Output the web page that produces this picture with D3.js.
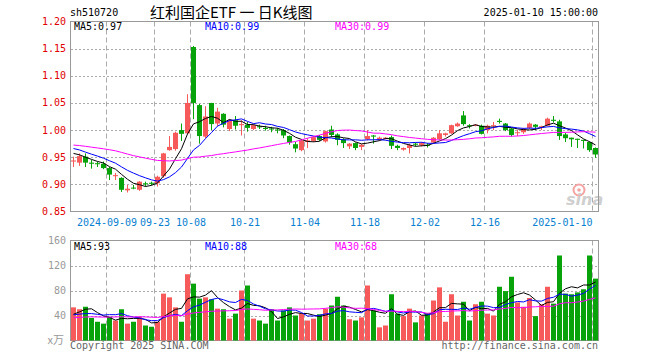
<!DOCTYPE html>
<html>
<head>
<meta charset="utf-8">
<script src="https://cdn.jsdelivr.net/npm/d3@7"></script>
<style>
body{margin:0;background:#fff}
text{font-family:"DejaVu Sans Mono",monospace;font-size:10px}
</style>
</head>
<body>
<div id="chart"></div>
<script>
// trading days shown on the chart
const dates = ["2024-08-30",
 "2024-09-02","2024-09-03","2024-09-04","2024-09-05","2024-09-06",
 "2024-09-09","2024-09-10","2024-09-11","2024-09-12","2024-09-13",
 "2024-09-18","2024-09-19","2024-09-20",
 "2024-09-23","2024-09-24","2024-09-25","2024-09-26","2024-09-27","2024-09-30",
 "2024-10-08","2024-10-09","2024-10-10","2024-10-11",
 "2024-10-14","2024-10-15","2024-10-16","2024-10-17","2024-10-18",
 "2024-10-21","2024-10-22","2024-10-23","2024-10-24","2024-10-25",
 "2024-10-28","2024-10-29","2024-10-30","2024-10-31","2024-11-01",
 "2024-11-04","2024-11-05","2024-11-06","2024-11-07","2024-11-08",
 "2024-11-11","2024-11-12","2024-11-13","2024-11-14","2024-11-15",
 "2024-11-18","2024-11-19","2024-11-20","2024-11-21","2024-11-22",
 "2024-11-25","2024-11-26","2024-11-27","2024-11-28","2024-11-29",
 "2024-12-02","2024-12-03","2024-12-04","2024-12-05","2024-12-06",
 "2024-12-09","2024-12-10","2024-12-11","2024-12-12","2024-12-13",
 "2024-12-16","2024-12-17","2024-12-18","2024-12-19","2024-12-20",
 "2024-12-23","2024-12-24","2024-12-25","2024-12-26","2024-12-27",
 "2024-12-30","2024-12-31","2025-01-02","2025-01-03",
 "2025-01-06","2025-01-07","2025-01-08","2025-01-09","2025-01-10"];

const openP = [0.942,0.940,0.951,0.940,0.939,0.938,0.930,0.915,0.912,0.889,
 0.894,0.890,0.902,0.903,0.902,0.915,0.963,0.965,1.000,0.994,
 1.153,1.046,0.988,1.050,1.012,1.030,1.002,1.018,1.009,1.010,
 1.002,1.007,1.004,1.003,1.001,1.000,0.989,0.974,0.963,0.978,
 0.980,0.989,0.979,1.001,0.992,0.983,0.970,0.976,0.969,0.983,
 0.990,0.983,0.984,0.987,0.971,0.964,0.967,0.975,0.972,0.973,
 0.977,0.983,0.991,0.994,1.007,1.027,1.009,1.008,1.008,1.000,
 1.007,1.017,1.012,1.003,0.995,0.996,1.004,1.010,1.005,1.008,
 1.019,1.016,0.992,0.986,0.984,0.982,0.978,0.967];
const highP = [0.951,0.957,0.957,0.945,0.942,0.942,0.932,0.921,0.913,0.899,
 0.899,0.906,0.905,0.905,0.916,0.958,0.989,0.997,1.012,1.066,
 1.155,1.048,1.044,1.050,1.041,1.031,1.020,1.026,1.018,1.015,
 1.011,1.010,1.008,1.006,1.004,1.002,0.990,0.978,0.983,0.985,
 0.989,0.991,0.999,1.008,0.994,0.985,0.976,0.977,0.974,1.000,
 0.991,0.988,0.987,0.990,0.973,0.968,0.975,0.977,0.978,0.976,
 0.987,1.000,0.995,1.010,1.014,1.035,1.011,1.011,1.010,1.010,
 1.015,1.021,1.013,1.004,1.000,1.004,1.014,1.011,1.008,1.023,
 1.026,1.019,0.995,0.986,0.984,0.982,0.979,0.968];
const lowP = [0.932,0.934,0.932,0.929,0.932,0.928,0.908,0.908,0.886,0.885,
 0.891,0.888,0.896,0.898,0.896,0.912,0.962,0.962,0.980,0.993,
 1.020,0.975,0.985,1.000,1.007,1.005,0.998,1.001,0.990,0.997,
 1.000,1.002,0.999,0.996,0.994,0.985,0.973,0.959,0.961,0.967,
 0.978,0.980,0.977,0.987,0.972,0.967,0.965,0.963,0.963,0.981,
 0.975,0.980,0.983,0.965,0.963,0.962,0.957,0.970,0.970,0.968,
 0.976,0.982,0.988,0.993,1.006,1.008,1.003,1.007,0.992,0.994,
 1.000,1.012,0.998,0.988,0.989,0.993,1.002,1.000,1.000,1.007,
 1.014,0.982,0.978,0.969,0.967,0.966,0.960,0.949];
const closeP = [0.944,0.952,0.940,0.938,0.937,0.930,0.918,0.917,0.890,0.892,
 0.893,0.905,0.900,0.901,0.914,0.957,0.969,0.995,0.993,1.050,
 1.050,0.989,1.025,1.011,1.034,1.010,1.018,1.008,1.011,1.004,
 1.009,1.005,1.002,1.001,1.000,0.990,0.977,0.966,0.981,0.981,
 0.987,0.982,0.998,0.991,0.982,0.976,0.975,0.967,0.973,0.989,
 0.988,0.986,0.986,0.971,0.967,0.967,0.972,0.973,0.976,0.971,
 0.986,0.994,0.994,1.009,1.012,1.011,1.007,1.010,0.993,1.008,
 1.009,1.015,1.000,0.991,0.996,1.002,1.012,1.006,1.007,1.021,
 1.017,0.989,0.985,0.983,0.982,0.980,0.963,0.955];
// volume in 万手
const volume = [53,50,54,36,30,27,38,32,50,27,30,38,24,22,30,75,69,53,30,106,
 91,67,69,66,51,50,35,43,80,88,35,32,27,50,32,48,53,40,43,32,
 35,42,51,56,70,56,34,32,37,88,48,21,24,74,43,39,51,29,40,44,
 64,85,30,74,40,62,32,58,62,43,40,86,79,102,61,54,68,39,58,86,
 59,136,75,74,77,82,136,99];

// days before the window, only used so the moving averages start where they do
const earlierClose = [0.978,0.982,0.985,0.980,0.976,0.972,0.975,0.979,0.983,0.980,
 0.974,0.970,0.968,0.972,0.976,0.978,0.974,0.969,0.966,0.973,
 0.978,0.980,0.976,0.972,0.969,0.965,0.962,0.958,0.956];
const earlierVolume = [30,36,28,33,40,31,29,35,38,32,27,34,36,41,33,30,35,39,32,40,
 38,45,36,42,39,31,33,32,61];

const priceTicks = [1.20,1.15,1.10,1.05,1.00,0.95,0.90,0.85];
const volTicks = [160,120,80,40];
const tickDates = ["2024-09-09","2024-09-23","2024-10-08","2024-10-21","2024-11-04",
 "2024-11-18","2024-12-02","2024-12-16","2025-01-10"];
const tickLabels = ["2024-09-09","09-23","10-08","10-21","11-04","11-18","12-02","12-16","2025-01-10"];
const maPeriods = [5,10,30];
const maColors = ["#000","#0000ff","#ff00ff"];
const priceLegend = ["MA5:0.97","MA10:0.99","MA30:0.99"];
const volLegend = ["MA5:93","MA10:88","MA30:68"];

const upColor = "#f65a5a", downColor = "#08a30a";
const W = 660, H = 360;
const L = 70, R = 598;

const svg = d3.select("#chart").append("svg")
    .attr("width", W).attr("height", H);

const x = d3.scaleBand().domain(d3.range(dates.length)).range([L, R]).padding(0);
const yP = d3.scaleLinear().domain([0.85, 1.20]).range([211.5, 21.5]);
const yV = d3.scaleLinear().domain([0, 160]).range([340.5, 240.5]);

const crisp = v => Math.round(v) + 0.5;
const isUp = i => closeP[i] >= openP[i];

// moving average with the earlier days as warm-up
function movingAvg(series, earlier, n) {
    const all = earlier.concat(series);
    return series.map((_, i) => d3.mean(all.slice(i + earlier.length - n + 1, i + earlier.length + 1)));
}

// header
svg.append("text").attr("x", 70).attr("y", 16).text("sh510720");
svg.append("text").attr("x", 150).attr("y", 18)
    .style("font-family", '"Noto Sans CJK SC", sans-serif').style("font-size", "15px")
    .text("红利国企ETF 一 日K线图");
svg.append("text").attr("x", R).attr("y", 16).attr("text-anchor", "end").text("2025-01-10 15:00:00");

// grid lines
const grid = svg.append("g");
grid.selectAll(".hp").data(priceTicks.slice(1, -1)).enter().append("line")
    .attr("x1", L + 1).attr("x2", R)
    .attr("y1", d => crisp(yP(d))).attr("y2", d => crisp(yP(d)))
    .attr("stroke", "#aaa").attr("stroke-dasharray", "2,2");
grid.selectAll(".hv").data(volTicks.slice(1)).enter().append("line")
    .attr("x1", L + 1).attr("x2", R)
    .attr("y1", d => crisp(yV(d))).attr("y2", d => crisp(yV(d)))
    .attr("stroke", "#aaa").attr("stroke-dasharray", "2,2");

const tickIdx = tickDates.map(d => dates.indexOf(d));
[[21.5, 211.5], [240.5, 340.5]].forEach(r => {
    grid.selectAll(null).data(tickIdx).enter().append("line")
        .attr("x1", i => x(i) + 0.5).attr("x2", i => x(i) + 0.5)
        .attr("y1", r[0]).attr("y2", r[1])
        .attr("stroke", "#aaa").attr("stroke-dasharray", "5,3");
});

// sina watermark
const wm = svg.append("g");
wm.append("circle").attr("cx", 579).attr("cy", 190).attr("r", 5.5)
    .attr("fill", "none").attr("stroke", "#f3a3a3").attr("stroke-width", 2);
wm.append("circle").attr("cx", 579).attr("cy", 190).attr("r", 1.8).attr("fill", "#f3a3a3");
wm.append("text").attr("x", 566).attr("y", 205)
    .style("font-family", "'DejaVu Sans', sans-serif").style("font-size", "16px")
    .style("font-weight", "bold").style("font-style", "italic")
    .attr("fill", "#cfcfcf").text("sina");

// frames
svg.append("rect").attr("x", L + 0.5).attr("y", 21.5).attr("width", R - L).attr("height", 190)
    .attr("fill", "none").attr("stroke", "#999");
svg.append("rect").attr("x", L + 0.5).attr("y", 240.5).attr("width", R - L).attr("height", 100)
    .attr("fill", "none").attr("stroke", "#999");

// price axis labels
svg.selectAll(".pl").data(priceTicks).enter().append("text")
    .attr("x", 66).attr("y", d => yP(d)).attr("dy", "0.35em")
    .attr("text-anchor", "end").attr("fill", "#e00000")
    .text(d => d.toFixed(2));
svg.selectAll(".vl").data(volTicks).enter().append("text")
    .attr("x", 66).attr("y", d => yV(d)).attr("dy", "0.35em")
    .attr("text-anchor", "end").attr("fill", "#999")
    .text(d => d);
svg.append("text").attr("x", 64).attr("y", 340).attr("dy", "0.35em")
    .attr("text-anchor", "end").attr("fill", "#999")
    .style("font-family", '"Noto Sans CJK SC", sans-serif').style("font-size", "11px")
    .text("x万");

// date labels
svg.selectAll(".dl").data(tickIdx).enter().append("text")
    .attr("x", (d, k) => k === tickIdx.length - 1 ? x(d) + 0.5 : x(d) + 1)
    .attr("y", 226)
    .attr("text-anchor", (d, k) => k === tickIdx.length - 1 ? "end" : "middle")
    .attr("fill", "#0a7fd0")
    .text((d, k) => tickLabels[k]);

// candles
const candles = svg.append("g").selectAll("g").data(d3.range(dates.length)).enter().append("g");
candles.append("line")
    .attr("x1", i => x(i) + 3.5).attr("x2", i => x(i) + 3.5)
    .attr("y1", i => yP(highP[i])).attr("y2", i => yP(lowP[i]))
    .attr("stroke", i => isUp(i) ? upColor : downColor);
candles.append("rect")
    .attr("x", i => x(i) + 1).attr("width", 5)
    .attr("y", i => yP(Math.max(openP[i], closeP[i])))
    .attr("height", i => Math.max(1, Math.abs(yP(openP[i]) - yP(closeP[i]))))
    .attr("fill", i => isUp(i) ? upColor : downColor);

// volume bars
svg.append("g").selectAll("rect").data(volume).enter().append("rect")
    .attr("x", (d, i) => x(i) + 1).attr("width", 5)
    .attr("y", d => yV(d)).attr("height", d => yV(0) - yV(d))
    .attr("fill", (d, i) => isUp(i) ? upColor : downColor);

// moving average lines
maPeriods.forEach((n, k) => {
    const pm = movingAvg(closeP, earlierClose, n);
    const vm = movingAvg(volume, earlierVolume, n);
    svg.append("path").datum(pm)
        .attr("d", d3.line().x((d, i) => x(i) + 3.5).y(d => yP(d)))
        .attr("fill", "none").attr("stroke", maColors[k]).attr("stroke-width", 1);
    svg.append("path").datum(vm)
        .attr("d", d3.line().x((d, i) => x(i) + 3.5).y(d => yV(d)))
        .attr("fill", "none").attr("stroke", maColors[k]).attr("stroke-width", 1);
});

// legends
const legX = [74, 205, 335];
priceLegend.forEach((t, k) => {
    svg.append("text").attr("x", legX[k]).attr("y", 30).attr("fill", maColors[k]).text(t);
});
volLegend.forEach((t, k) => {
    svg.append("text").attr("x", legX[k]).attr("y", 250).attr("fill", maColors[k]).text(t);
});

// footer
svg.append("text").attr("x", 70).attr("y", 349).attr("fill", "#666").text("Copyright 2025 SINA.COM");
svg.append("text").attr("x", R).attr("y", 349).attr("text-anchor", "end").attr("fill", "#666")
    .text("http://finance.sina.com.cn");
</script>
</body>
</html>
